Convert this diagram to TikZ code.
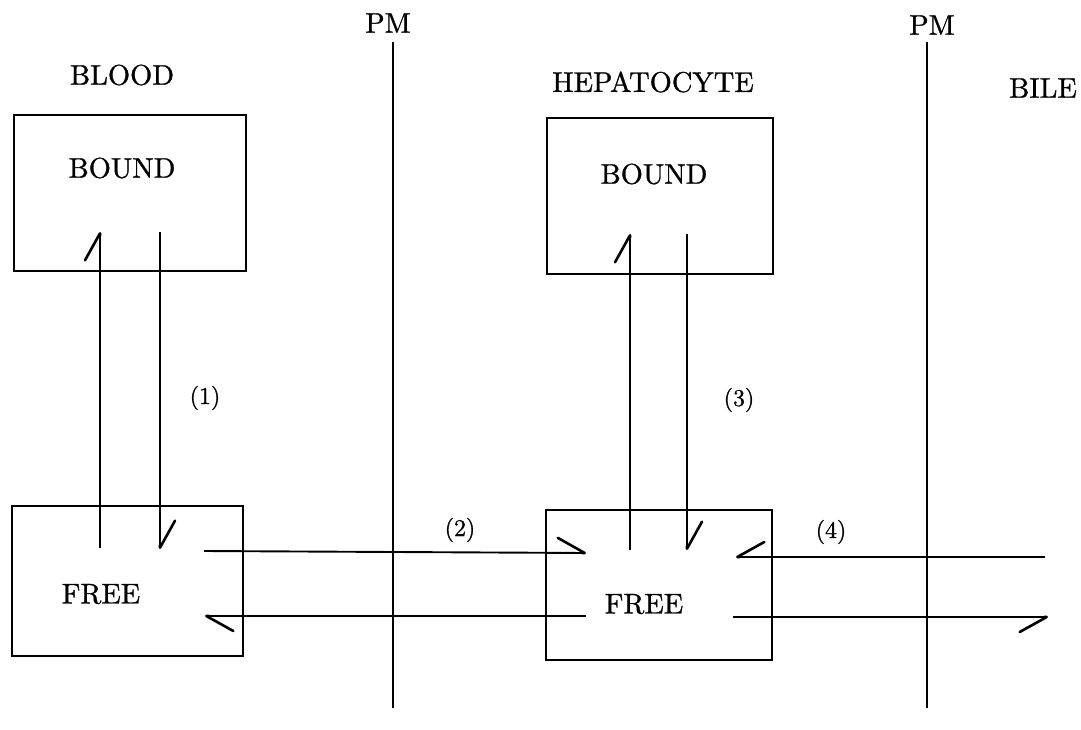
\documentclass[tikz,border=0pt]{standalone}
\usepackage{fontspec}
\newfontfamily\labfont{lmroman10-regular.otf}[FakeBold=1]
\usetikzlibrary{arrows.meta}
\begin{document}
\begin{tikzpicture}[x=1pt,y=-1pt,
  box/.style={draw,line width=2.1pt,rectangle,inner sep=0pt},
  lab/.style={font=\labfont\fontsize{28.5}{30}\selectfont,inner sep=0pt},
  num/.style={font=\labfont\fontsize{24}{26}\selectfont,inner sep=0pt},
  memb/.style={line width=1.8pt},
  flow/.style={line width=1.9pt,-{Straight Barb[harpoon,length=27pt,width=30pt,line width=2.6pt,round]}},
  flowswap/.style={line width=1.9pt,-{Straight Barb[harpoon,swap,length=27pt,width=30pt,line width=2.6pt,round]}}]
\useasboundingbox (0,0) rectangle (1081,730);
% boxes
\node[box,minimum width=232pt,minimum height=156pt] (bbound) at (130,193) {};
\node[box,minimum width=231pt,minimum height=150pt] (bfree) at (127.5,581) {};
\node[box,minimum width=226pt,minimum height=156pt] (hbound) at (660,196) {};
\node[box,minimum width=226pt,minimum height=150pt] (hfree) at (659,585) {};
% texts
\node[lab] (pm1) at (388,23) {PM};
\node[lab] (pm2) at (932,25) {PM};
\node[lab] (blood) at (122,75) {BLOOD};
\node[lab] (hep) at (653,82) {HEPATOCYTE};
\node[lab] (bile) at (1043,88) {BILE};
\node[lab] (bboundt) at (122,168) {BOUND};
\node[lab] (hboundt) at (654,174) {BOUND};
\node[lab] (bfreet) at (101,594) {FREE};
\node[lab] (hfreet) at (644,604) {FREE};
\node[num] (n1) at (205,398) {(1)};
\node[num] (n3) at (739,400) {(3)};
\node[num] (n2) at (460,530) {(2)};
\node[num] (n4) at (831,532) {(4)};
% membranes
\coordinate (pm1top) at (393,42);
\coordinate (pm1bot) at (393,708);
\coordinate (pm2top) at (927,42);
\coordinate (pm2bot) at (927,708);
\draw[memb] (pm1top) -- (pm1bot);
\draw[memb] (pm2top) -- (pm2bot);
% arrow end points
\coordinate (a1s) at (100,548); \coordinate (a1e) at (100,232);
\coordinate (b1s) at (160,232); \coordinate (b1e) at (160,549);
\coordinate (a2s) at (204,551); \coordinate (a2e) at (586,553);
\coordinate (b2s) at (586,616); \coordinate (b2e) at (205,616);
\coordinate (a3s) at (630,550); \coordinate (a3e) at (630,234);
\coordinate (b3s) at (687,234); \coordinate (b3e) at (687,550);
\coordinate (a4s) at (1045,557); \coordinate (a4e) at (736,557);
\coordinate (b4s) at (733,617); \coordinate (b4e) at (1048,617);
\draw[flow] (a1s) -- (a1e);
\draw[flow] (b1s) -- (b1e);
\draw[flow] (a2s) -- (a2e);
\draw[flow] (b2s) -- (b2e);
\draw[flow] (a3s) -- (a3e);
\draw[flow] (b3s) -- (b3e);
\draw[flowswap] (a4s) -- (a4e);
\draw[flowswap] (b4s) -- (b4e);
\end{tikzpicture}
\end{document}
